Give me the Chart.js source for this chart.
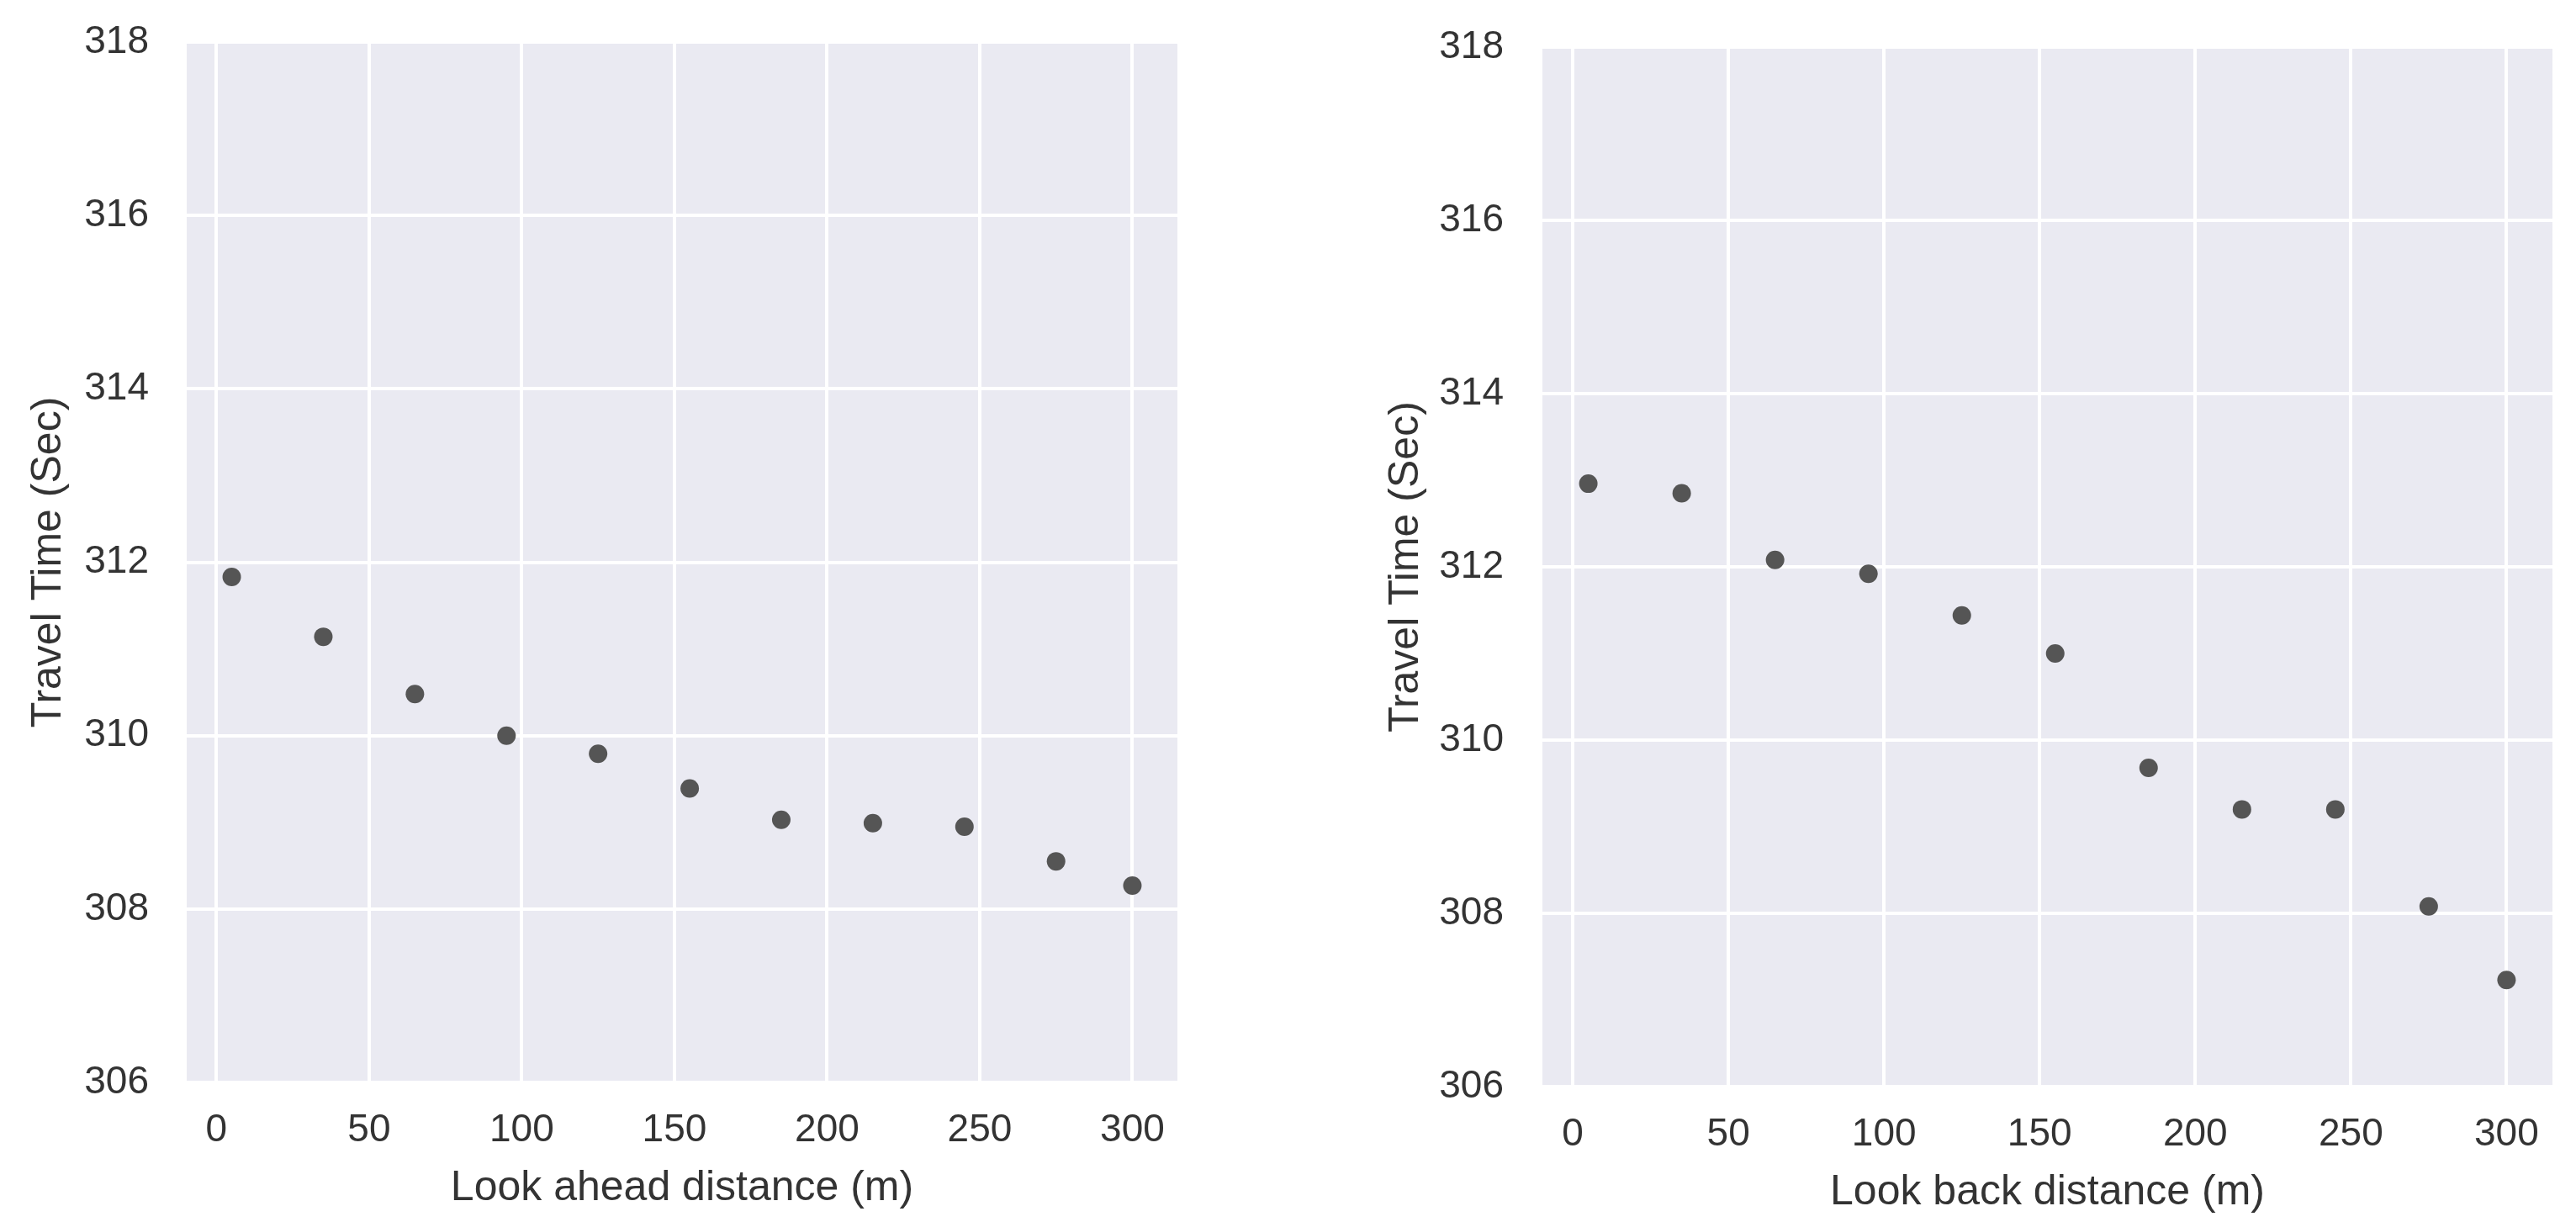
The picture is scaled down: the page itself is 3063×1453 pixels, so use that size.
<!DOCTYPE html>
<html>
<head>
<meta charset="utf-8">
<script src="https://cdn.jsdelivr.net/npm/chart.js@4.4.0/dist/chart.umd.min.js"></script>
<style>
  html, body { margin: 0; padding: 0; background: #ffffff; }
  #wrap { position: relative; width: 3063px; height: 1453px; overflow: hidden; }
  canvas { position: absolute; top: 0; }
</style>
</head>
<body>
<div id="wrap">
  <canvas id="chartAhead" width="1430" height="1453" style="left:0px"></canvas>
  <canvas id="chartBack" width="1613" height="1453" style="left:1450px"></canvas>
</div>
<script>
// datos
const distances = [5, 35, 65, 95, 125, 155, 185, 215, 245, 275, 300];
const aheadTravelTime = [311.83, 311.14, 310.48, 310.0, 309.79, 309.39, 309.03, 308.99, 308.95, 308.55, 308.27];
const backTravelTime = [312.96, 312.85, 312.08, 311.92, 311.44, 311.0, 309.68, 309.2, 309.2, 308.08, 307.23];
const xTickValues = [0, 50, 100, 150, 200, 250, 300];
const yTickValues = [306, 308, 310, 312, 314, 316, 318];

const FONT = '"Liberation Sans", Arial, sans-serif';

// fondo gris del área de trazado (estilo seaborn)
const plotBackground = {
  id: 'plotBackground',
  beforeDraw(chart) {
    const { ctx, chartArea } = chart;
    ctx.save();
    ctx.fillStyle = '#EAEAF2';
    ctx.fillRect(chartArea.left, chartArea.top, chartArea.right - chartArea.left, chartArea.bottom - chartArea.top);
    ctx.restore();
  }
};

function makeChart(id, values, xTitle, box) {
  const config = {
    type: 'scatter',
    data: {
      datasets: [{
        data: distances.map((d, i) => ({ x: d, y: values[i] })),
        backgroundColor: '#555555',
        borderWidth: 0,
        pointRadius: 11,
        pointHoverRadius: 11
      }]
    },
    options: {
      responsive: false,
      animation: false,
      events: [],
      layout: { padding: { top: box.top, right: box.right, bottom: 0, left: 0 } },
      plugins: { legend: { display: false }, tooltip: { enabled: false } },
      scales: {
        x: {
          type: 'linear',
          min: -9.75,
          max: 314.75,
          afterBuildTicks: (scale) => { scale.ticks = xTickValues.map(v => ({ value: v })); },
          afterFit: (scale) => { scale.height = box.xHeight; },
          ticks: {
            padding: 0,
            color: '#333333',
            font: { family: FONT, size: 46 },
            maxRotation: 0
          },
          // las marcas blancas sobre blanco sirven de separación para las etiquetas
          grid: { color: '#ffffff', tickColor: '#ffffff', lineWidth: 4, drawTicks: true, tickLength: box.xTickGap },
          border: { display: false },
          title: {
            display: true,
            text: xTitle,
            color: '#333333',
            font: { family: FONT, size: 50 },
            padding: { top: 0, bottom: box.xTitlePad }
          }
        },
        y: {
          type: 'linear',
          min: 306,
          max: 318,
          afterBuildTicks: (scale) => { scale.ticks = yTickValues.map(v => ({ value: v })); },
          afterFit: (scale) => { scale.width = box.yWidth; },
          ticks: {
            padding: 0,
            color: '#333333',
            font: { family: FONT, size: 46 }
          },
          grid: { color: '#ffffff', tickColor: '#ffffff', lineWidth: 4, drawTicks: true, tickLength: box.yTickGap },
          border: { display: false },
          title: {
            display: true,
            text: 'Travel Time (Sec)',
            color: '#333333',
            font: { family: FONT, size: 50 },
            padding: { top: box.yTitlePad, bottom: 0 }
          }
        }
      }
    },
    plugins: [plotBackground]
  };
  return new Chart(document.getElementById(id), config);
}

const chartAhead = makeChart('chartAhead', aheadTravelTime, 'Look ahead distance (m)', {
  top: 50, right: 30, xHeight: 166, yWidth: 222,
  xTickGap: 30, xTitlePad: 10, yTickGap: 45, yTitlePad: 28
});

const chartBack = makeChart('chartBack', backTravelTime, 'Look back distance (m)', {
  top: 56, right: 28, xHeight: 161, yWidth: 384,
  xTickGap: 30, xTitlePad: 5, yTickGap: 46, yTitlePad: 192
});
</script>
</body>
</html>
